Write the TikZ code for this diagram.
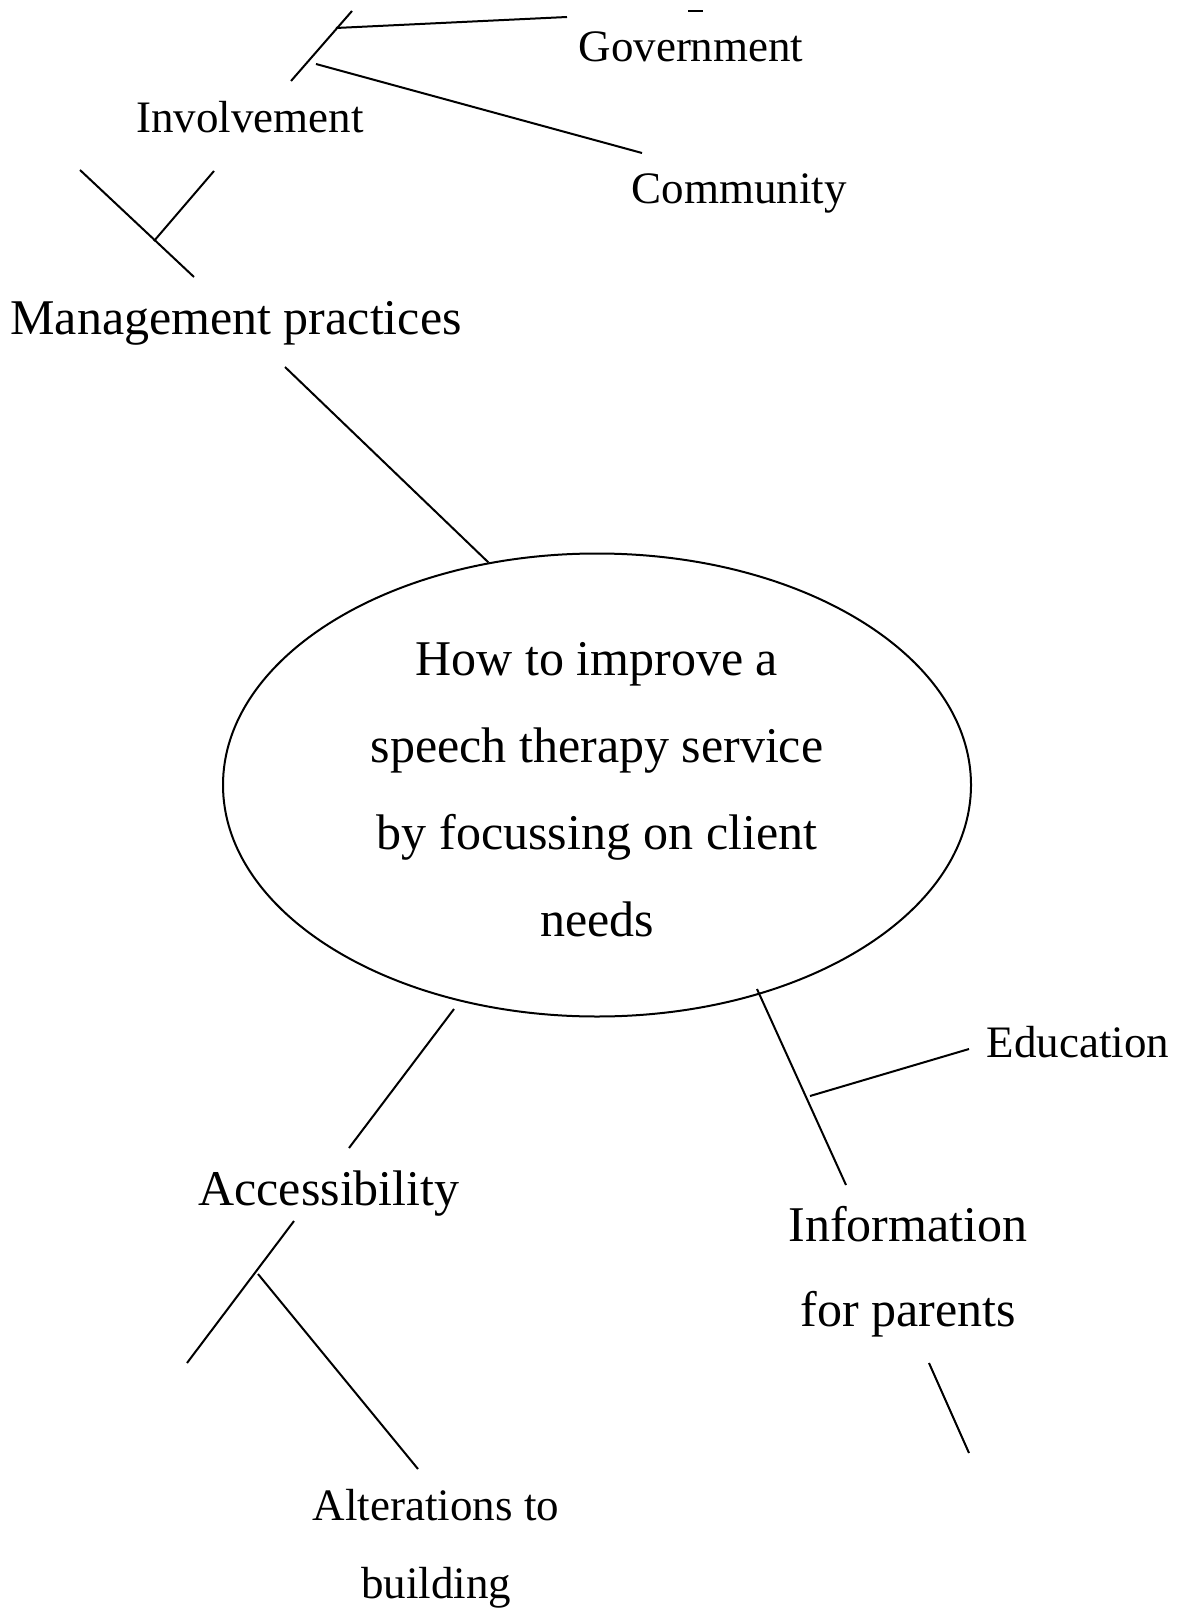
\documentclass[tikz,border=0pt]{standalone}
\usepackage{fontspec}
\setmainfont{Liberation Serif}
\usetikzlibrary{shapes.geometric}
\begin{document}
\begin{tikzpicture}[x=.5pt, y=-.5pt, line width=1pt,
    small/.style={font=\fontsize{22.5}{39}\selectfont, inner sep=0, anchor=base, align=center},
    large/.style={font=\fontsize{25}{42.5}\selectfont, inner sep=0, anchor=base, align=center}]
    \useasboundingbox (0,0) rectangle (1180,1610);
    % centre of the map
    \node [draw, ellipse, minimum width=374pt, minimum height=231.5pt, inner sep=0] (centre) at (597,785) {};
    \node [align=center, inner sep=0, font=\fontsize{25}{43.5}\selectfont] (question) at (597,790)
          {How to improve a\\speech therapy service\\by focussing on client\\needs};
    % labels (multi-line ones sit on their last line)
    \node [large] (mgt) at (236,335) {Management practices};
    \node [small] (inv) at (250,133) {Involvement};
    \node [small] (gov) at (691,62) {Government};
    \node [small] (com) at (739,204) {Community};
    \node [large] (acc) at (329,1205) {Accessibility};
    \node [small] (alt) at (436,1598) {Alterations to\\building};
    \node [large] (info) at (908,1326) {Information\\for parents};
    \node [small] (edu) at (1078,1057) {Education};
    % line ends
    \coordinate (invtop) at (352,11);  \coordinate (invbot) at (291,81);
    \coordinate (govl) at (336,28);    \coordinate (govr) at (567,17);
    \coordinate (coml) at (316,64);    \coordinate (comr) at (642,153);
    \coordinate (dashl) at (688,11);   \coordinate (dashr) at (703,11);
    \coordinate (mgttop) at (80,170);  \coordinate (mgtbot) at (194,277);
    \coordinate (invlow) at (214,171); \coordinate (invjoin) at (154,241);
    \coordinate (mgtlow) at (285,367);
    \coordinate (acctop) at (454,1009); \coordinate (accup) at (349,1148);
    \coordinate (acclow) at (294,1221); \coordinate (accend) at (187,1363);
    \coordinate (altjoin) at (258,1274); \coordinate (altend) at (418,1469);
    \coordinate (infotop) at (757,989); \coordinate (infoup) at (846,1185);
    \coordinate (edujoin) at (810,1096); \coordinate (edul) at (969,1049);
    \coordinate (infolow) at (929,1363); \coordinate (infoend) at (969,1453);
    % branches
    \draw (invtop)--(invbot); \draw (govl)--(govr);
    \draw (coml)--(comr); \draw (dashl)--(dashr);
    \draw (mgttop)--(mgtbot); \draw (invlow)--(invjoin);
    \draw (mgtlow)--(centre.116);
    \draw (acctop)--(accup); \draw (acclow)--(accend);
    \draw (altjoin)--(altend);
    \draw (infotop)--(infoup); \draw (edujoin)--(edul);
    \draw (infolow)--(infoend);
\end{tikzpicture}
\end{document}
